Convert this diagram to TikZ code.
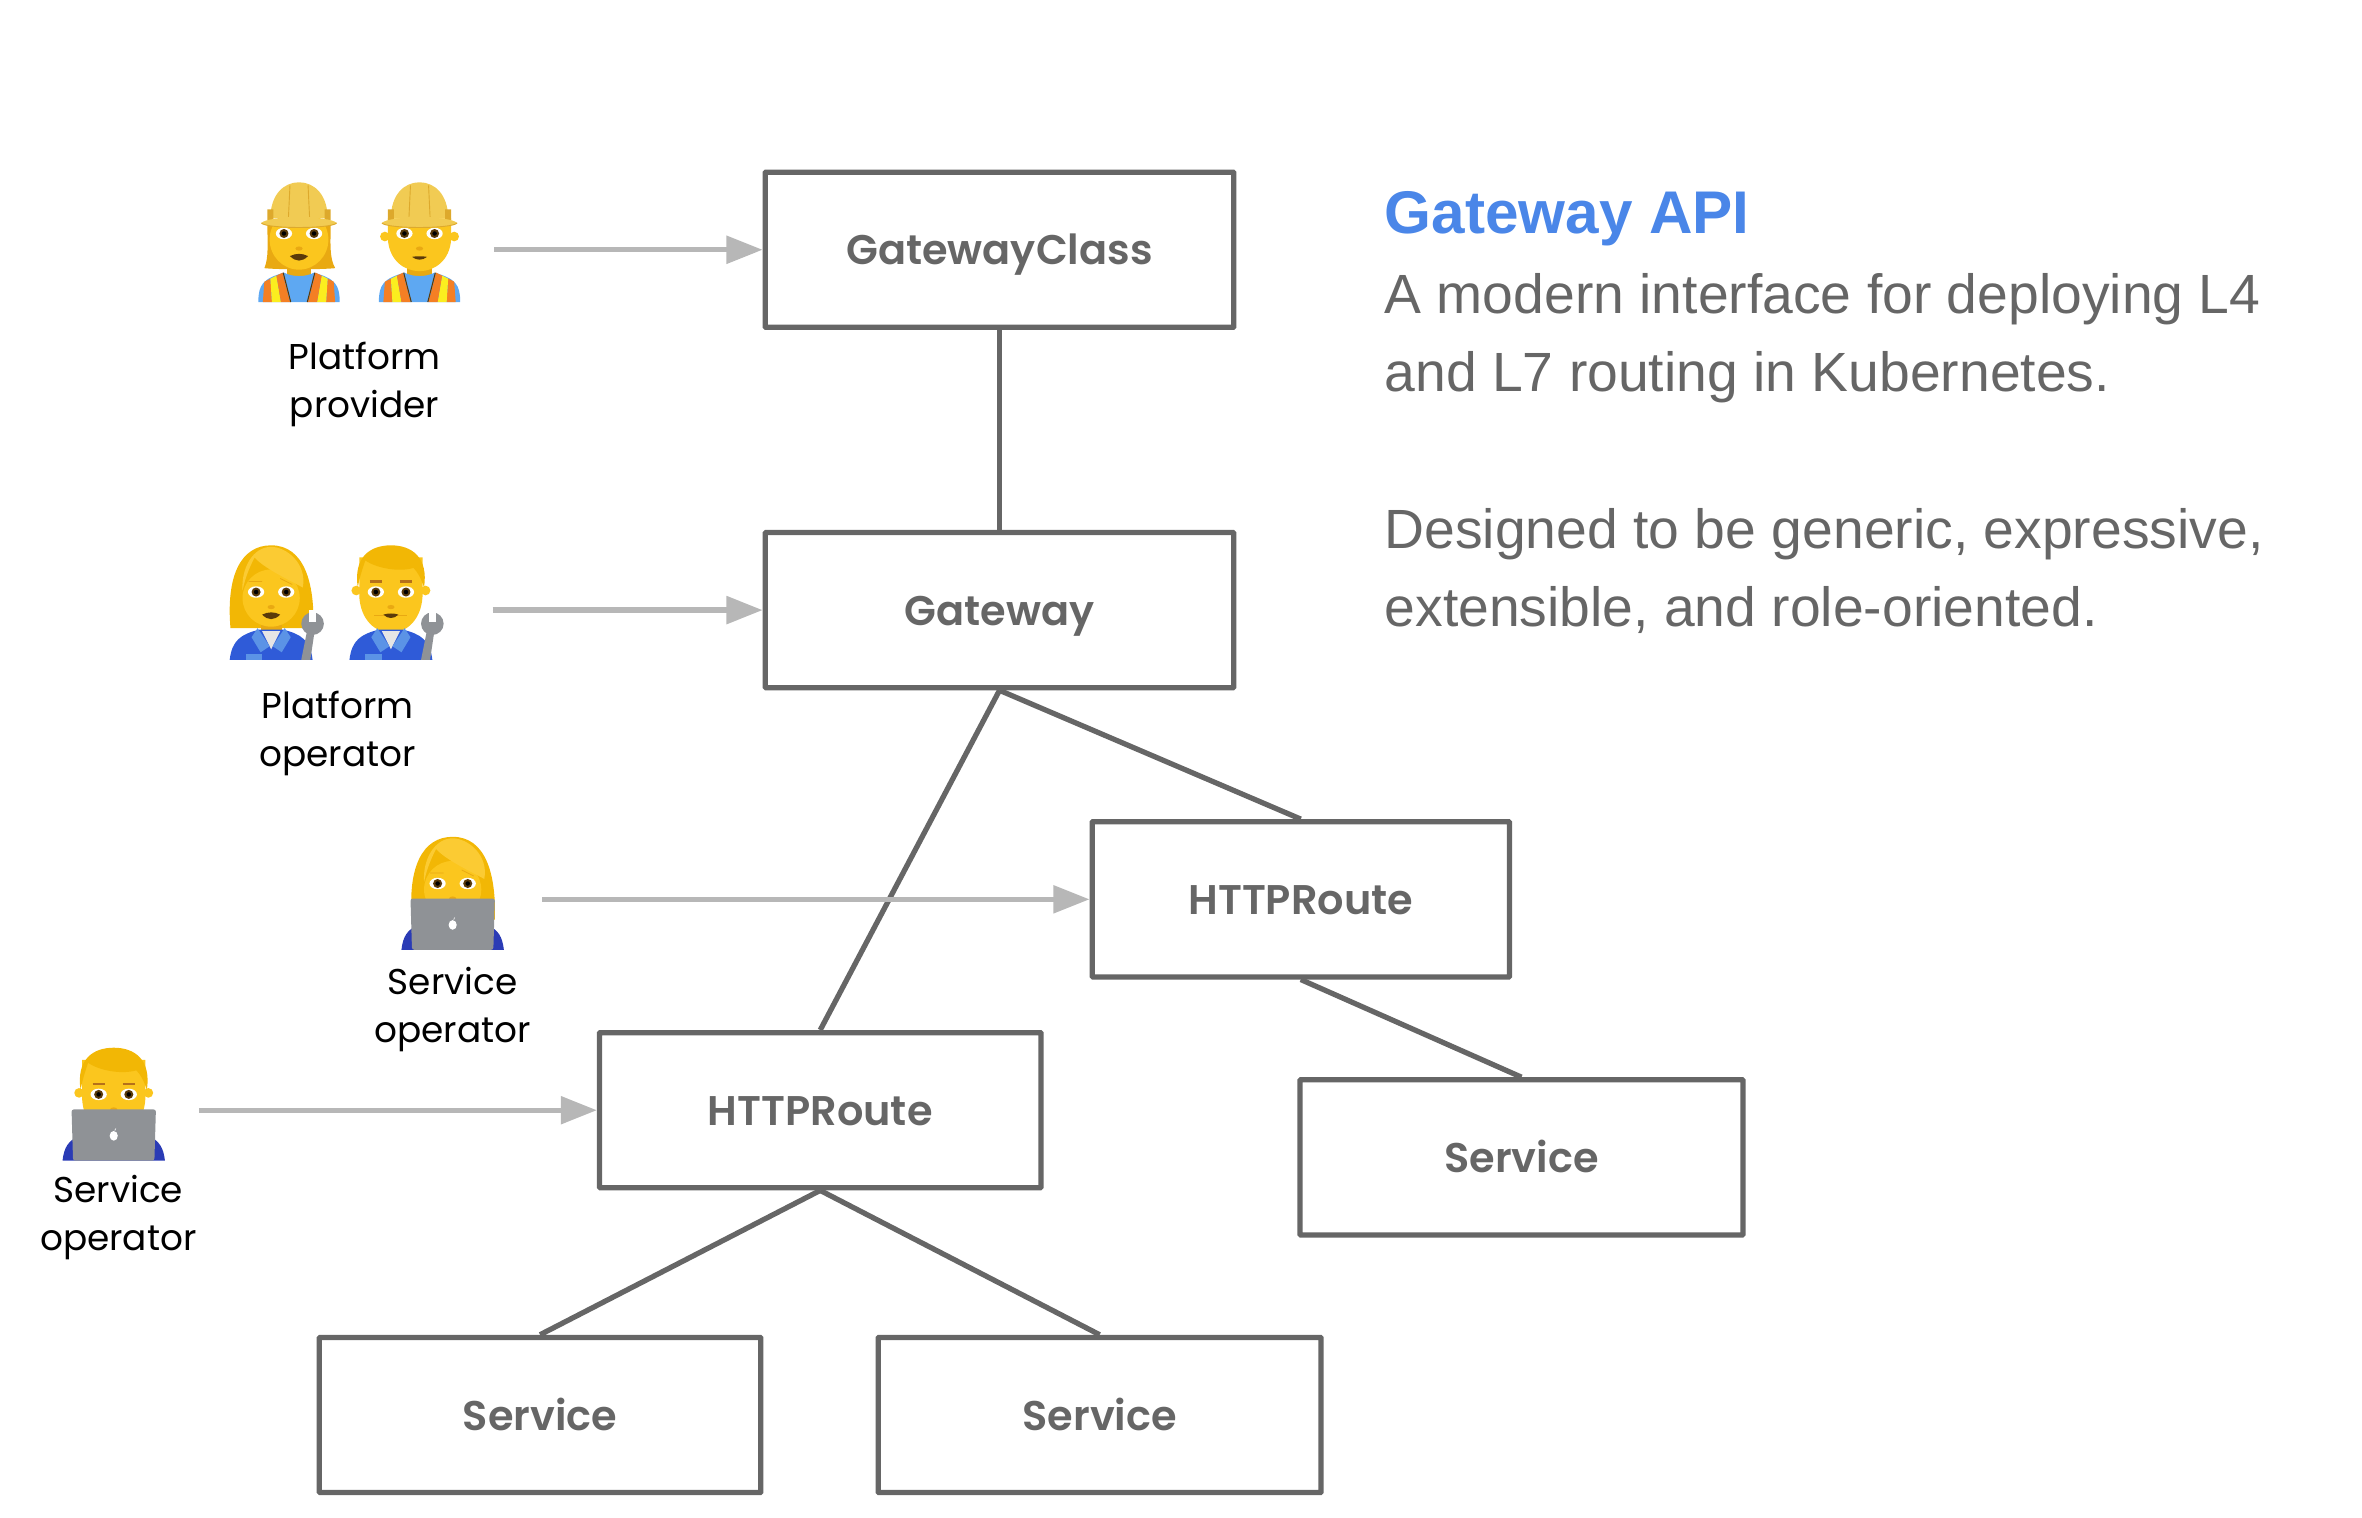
\documentclass[tikz,border=0pt]{standalone}
\usepackage{fontspec}
\setmainfont{Liberation Sans}
\newfontfamily\labelfont{Poppins}
\newfontfamily\labelbold{Poppins SemiBold}
\usetikzlibrary{arrows.meta}
\definecolor{boxgrey}{HTML}{666666}
\definecolor{arrowgrey}{HTML}{B7B7B7}
\definecolor{titleblue}{HTML}{4A86E8}
\definecolor{skin}{HTML}{FBC61E}
\definecolor{skindark}{HTML}{E9A912}
\definecolor{hairgold}{HTML}{F2B705}
\definecolor{hairlight}{HTML}{FBCB33}
\definecolor{helmetgold}{HTML}{F1CB53}
\definecolor{helmetdark}{HTML}{DDA92C}
\definecolor{shirtblue}{HTML}{5EA8F2}
\definecolor{vestorange}{HTML}{F47F24}
\definecolor{vestyellow}{HTML}{FBEE1F}
\definecolor{mechblue}{HTML}{2F5BD8}
\definecolor{collarblue}{HTML}{5B93E6}
\definecolor{steel}{HTML}{8F9296}
\definecolor{eyebrown}{HTML}{5A3A0A}
\definecolor{browbrown}{HTML}{B5701A}
\definecolor{sleeve}{HTML}{2A3BB5}

% bits of the people
\newcommand{\eyepair}{
  \foreach \s in {-1,1} {
    \fill[white] ({\s*10},31) ellipse (5.4 and 3.8);
    \fill[eyebrown] ({\s*10},31) circle (3);
    \fill[black] ({\s*10},31) circle (1.5);
  }
  \fill[skindark] (0,41) ellipse (2.4 and 1.4);
}
\newcommand{\womanhead}{
  \fill[hairgold] (-27,55) .. controls (-30,20) and (-20,0) .. (0,0) .. controls (22,0) and (29,25) .. (28,55) -- cycle;
  \fill[skindark] (-7,48) rectangle (7,58);
  \fill[skin] (0,35) ellipse (19 and 19);
  \fill[hairlight] (-19,30) .. controls (-17,20) and (-13,12) .. (-11,8) .. controls (-5,15) and (10,22) .. (21,28) .. controls (24,12) and (10,1) .. (0,1) .. controls (-12,1) and (-20,15) .. (-19,30) -- cycle;
  \eyepair
  \draw[skindark,line width=.5pt] (-15,24) -- (-6,24) (6,22) -- (14,26);
  \fill[eyebrown] (-6,46) .. controls (-2,44) and (2,44) .. (6,46) .. controls (2,50) and (-2,50) .. (-6,46) -- cycle;
}
\newcommand{\manhead}{
  \fill[skindark] (-7,48) rectangle (7,60);
  \fill[skin] (-23,30) circle (3.2) (23,30) circle (3.2);
  \fill[skin] (-21,8) -- (21,8) -- (21,34) .. controls (20,50) and (10,58) .. (0,58) .. controls (-10,58) and (-20,50) .. (-21,34) -- cycle;
  \fill[hairgold] (-22,28) .. controls (-25,8) and (-14,0) .. (0,0) .. controls (14,0) and (25,8) .. (22,28) .. controls (20,22) and (18,18) .. (15,15) .. controls (5,18) and (-10,15) .. (-17,10) .. controls (-19,16) and (-21,22) .. (-22,28) -- cycle;
  \eyepair
  \draw[browbrown,line width=1.4pt] (-14,24) -- (-6,24) (6,24) -- (14,24);
  \draw[skindark,line width=.8pt] (-11,46.5) -- (11,46.5);
  \fill[eyebrown] (-5,46) .. controls (-2,45) and (2,45) .. (5,46) .. controls (2,49) and (-2,49) .. (-5,46) -- cycle;
}
\newcommand{\vestbody}{
  \fill[skindark] (-8,50) rectangle (8,64);
  \fill[shirtblue] (-27,79.5) .. controls (-27,68) and (-24,64) .. (-10,60) .. controls (-4,63) and (4,63) .. (10,60) .. controls (24,64) and (27,68) .. (27,79.5) -- cycle;
  \foreach \s in {-1,1} {
    \fill[vestorange] ({\s*24},79.5) -- ({\s*23},66) -- ({\s*19},64) -- ({\s*18},79.5) -- cycle;
    \fill[vestyellow] ({\s*18},79.5) -- ({\s*19},64) -- ({\s*15},62) -- ({\s*12},79.5) -- cycle;
    \fill[vestorange] ({\s*12},79.5) -- ({\s*15},62) -- ({\s*11},60) -- ({\s*6},79.5) -- cycle;
    \draw[eyebrown,line width=.7pt] ({\s*5.5},79.5) -- ({\s*10.5},60);
  }
}
\newcommand{\helmet}{
  \fill[helmetgold] (-19,24) .. controls (-19,8) and (-10,0) .. (0,0) .. controls (10,0) and (19,8) .. (19,24) -- cycle;
  \draw[helmetdark,line width=.6pt] (-6,2) -- (-7,23) (6,2) -- (7,23);
  \fill[helmetdark] (-21,18) rectangle (-17,25) (17,18) rectangle (21,25);
  \fill[helmetgold] (-25,27) .. controls (-20,22) and (20,22) .. (25,27) .. controls (22,31) and (-22,31) .. (-25,27) -- cycle;
  \draw[helmetdark,line width=.6pt] (-25,27) .. controls (-22,31) and (22,31) .. (25,27);
}
\newcommand{\mechbody}{
  \fill[mechblue] (-27.5,76) .. controls (-26,63) and (-20,59) .. (-8,56) -- (8,56) .. controls (20,59) and (26,63) .. (27.5,76) -- cycle;
  \fill[white!90!black] (-6,57) -- (6,57) -- (0,69) -- cycle;
  \foreach \s in {-1,1} {
    \fill[collarblue] ({\s*9},55) -- ({\s*1},67) -- ({\s*7},71) -- ({\s*13},61) -- cycle;
  }
  \fill[collarblue] (-17,72) rectangle (-6,76);
  % wrench
  \fill[steel] (20,76) -- (24,56) -- (29,56) -- (26,76) -- cycle;
  \fill[steel] (27.5,52) circle (7.5);
  \fill[white] (25.3,43) rectangle (29.9,51);
}
\newcommand{\laptopfront}{
  \fill[sleeve] (-34,75) .. controls (-33,66) and (-30,62) .. (-24,59) -- (24,59) .. controls (30,62) and (33,66) .. (34,75) -- cycle;
  \fill[steel,rounded corners=1.5pt] (-28,41) -- (28,41) -- (27,75) -- (-27,75) -- cycle;
  \fill[white] (0,58.5) ellipse (2.7 and 3.2);
  \fill[white] (.4,54.8) -- (1.6,53.2) -- (1,55) -- cycle;
}

\tikzset{
  >={Triangle[length=24pt,width=18pt]},
  box/.style={draw=boxgrey,line width=3.5pt,rounded corners=.5pt,minimum height=103pt,inner sep=0pt,
    text height=26pt,text depth=6pt,font=\labelbold\fontsize{27.5}{30}\selectfont,text=boxgrey},
  link/.style={draw=boxgrey,line width=3.5pt},
  assign/.style={->,draw=arrowgrey,fill=arrowgrey,line width=3.5pt},
  role/.style={align=center,inner sep=0pt,font=\labelfont\fontsize{23.8}{32}\selectfont,text=black},
  workerwoman/.pic={
    \fill[skindark] (-23,57) .. controls (-20,50) and (-21,40) .. (-21,28) -- (21,28) .. controls (21,40) and (20,50) .. (24,57) .. controls (15,58) and (-15,58) .. (-23,57) -- cycle;
    \vestbody
    \fill[skin] (0,38) ellipse (19.5 and 20);
    \begin{scope}[yshift=-3pt]\eyepair\end{scope}
    \fill[eyebrown] (-6,49) .. controls (-2,47) and (2,47) .. (6,49) .. controls (2,53) and (-2,53) .. (-6,49) -- cycle;
    \helmet
  },
  workerman/.pic={
    \vestbody
    \fill[skin] (-23,36) circle (3.2) (23,36) circle (3.2);
    \fill[skin] (-21,24) -- (21,24) -- (21,38) .. controls (20,52) and (10,59) .. (0,59) .. controls (-10,59) and (-20,52) .. (-21,38) -- cycle;
    \begin{scope}[yshift=-3pt]\eyepair\end{scope}
    \draw[browbrown,line width=1pt] (-14,28) -- (-6,28) (6,28) -- (14,28);
    \fill[eyebrown] (-5,49.5) .. controls (-2,49) and (2,49) .. (5,49.5) .. controls (2,52) and (-2,52) .. (-5,49.5) -- cycle;
    \helmet
  },
  mechwoman/.pic={\womanhead \mechbody},
  mechman/.pic={\manhead \mechbody},
  laptopwoman/.pic={\womanhead \laptopfront},
  laptopman/.pic={\manhead \laptopfront},
}

\begin{document}
\begin{tikzpicture}[x=1pt,y=-1pt]
\useasboundingbox (0,0) rectangle (1568,1007.7);

% resources
\node[box,minimum width=311pt] (gatewayclass) at (663.5,165.8) {GatewayClass};
\node[box,minimum width=311pt] (gateway) at (663.5,405) {Gateway};
\node[box,minimum width=277pt] (routeA) at (863.5,597) {HTTPRoute};
\node[box,minimum width=293pt] (routeB) at (544.5,737) {HTTPRoute};
\node[box,minimum width=294pt] (serviceA) at (1010,768.3) {Service};
\node[box,minimum width=293pt] (serviceB) at (358.5,939.3) {Service};
\node[box,minimum width=294pt] (serviceC) at (730,939.3) {Service};

\draw[link] (gatewayclass) -- (gateway);
\draw[link] (gateway.south) -- (routeA.north);
\draw[link] (gateway.south) -- (routeB.north);
\draw[link] (routeA.south) -- (serviceA.north);
\draw[link] (routeB.south) -- (serviceB.north);
\draw[link] (routeB.south) -- (serviceC.north);

% people
\pic at (198.5,121) {workerwoman};
\pic at (278.5,121) {workerman};
\pic at (180,362) {mechwoman};
\pic at (259.5,362) {mechman};
\pic at (300.5,555.5) {laptopwoman};
\pic at (75.5,695.5) {laptopman};

\node[role] (provider) at (242,255) {Platform\\provider};
\node[role] (platformop) at (224,487) {Platform\\operator};
\node[role] (serviceopA) at (300.5,670) {Service\\operator};
\node[role] (serviceopB) at (78.5,808) {Service\\operator};

\coordinate (providerout) at (328,165.8);
\coordinate (platformout) at (327,405);
\coordinate (serviceoutA) at (360,597);
\coordinate (serviceoutB) at (132,737);
\draw[assign] (providerout) -- (gatewayclass.west);
\draw[assign] (platformout) -- (gateway.west);
\draw[assign] (serviceoutA) -- (routeA.west);
\draw[assign] (serviceoutB) -- (routeB.west);

% description
\node[anchor=west,inner sep=0pt,text=titleblue,font=\bfseries\fontsize{40}{44}\selectfont] (apititle) at (919,145) {Gateway API};
\node[anchor=north west,inner sep=0pt,align=left,text=boxgrey,font=\fontsize{36.7}{52}\selectfont] (apitext) at (919,181) {A modern interface for deploying L4\\and L7 routing in Kubernetes.\\[52pt]Designed to be generic, expressive,\\extensible, and role-oriented.};
\end{tikzpicture}
\end{document}
